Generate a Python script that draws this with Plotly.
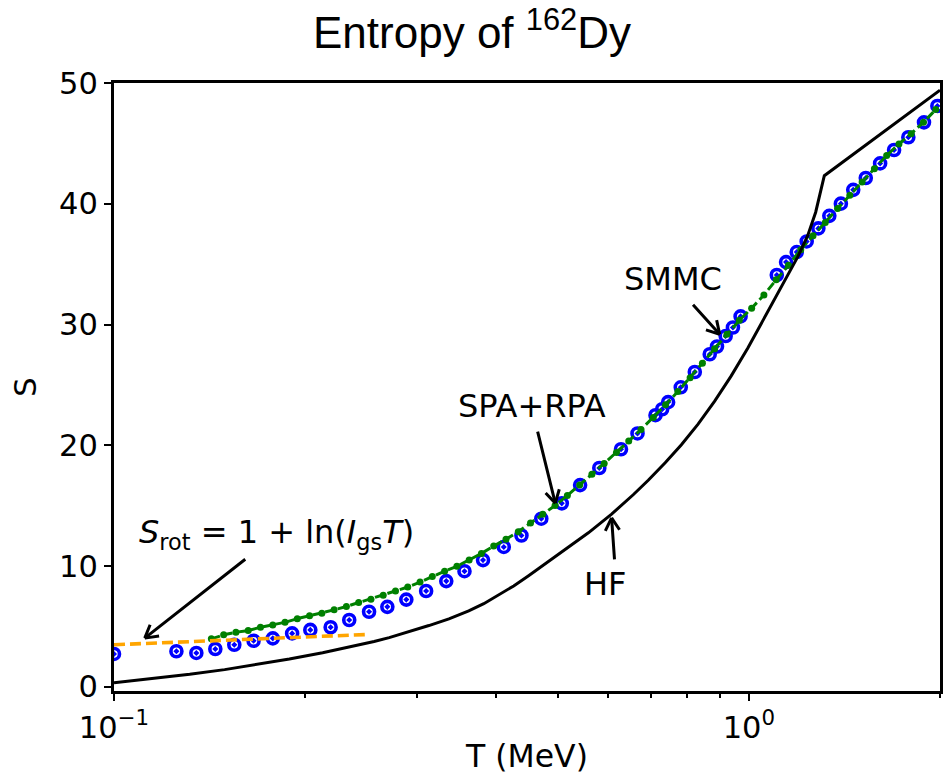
import numpy as np
import plotly.graph_objects as go

# ---------------- data ----------------
# SMMC (blue open circles)
smmc_T = [0.1, 0.1254, 0.1348, 0.1444, 0.1547, 0.1659, 0.1779, 0.1908, 0.2038, 0.2194,
          0.2347, 0.2522, 0.2695, 0.2887, 0.3102, 0.3337, 0.3565, 0.3813, 0.4111, 0.4383,
          0.4710, 0.5074, 0.5422, 0.5813, 0.6289, 0.6677, 0.7127, 0.7301, 0.7461, 0.7811,
          0.8219, 0.8676, 0.8908, 0.9193, 0.9438, 0.9704, 1.1065, 1.1444, 1.1895, 1.2332,
          1.2865, 1.3387, 1.3960, 1.4600, 1.5280, 1.6096, 1.6932, 1.7830, 1.8872, 1.9810]
smmc_S = [2.72, 2.94, 2.80, 3.13, 3.48, 3.81, 4.01, 4.42, 4.71, 4.93,
          5.53, 6.21, 6.62, 7.22, 7.93, 8.75, 9.57, 10.49, 11.58, 12.53,
          13.92, 15.19, 16.70, 18.12, 19.67, 20.98, 22.49, 22.98, 23.57, 24.80,
          26.07, 27.54, 28.18, 29.05, 29.75, 30.67, 34.10, 35.17, 36.00, 36.88,
          37.96, 39.00, 40.01, 41.15, 42.13, 43.34, 44.45, 45.51, 46.74, 48.10]

# SPA+RPA (green dashed with dots)
spa_T = [0.14235, 0.14884, 0.15561, 0.16270, 0.17010, 0.17785, 0.18594, 0.19441, 0.20326, 0.21251,
         0.22219, 0.23230, 0.24288, 0.25394, 0.26550, 0.27758, 0.29022, 0.30343, 0.31725, 0.33169,
         0.34679, 0.36258, 0.37909, 0.39635, 0.41439, 0.43326, 0.45298, 0.47360, 0.49516, 0.51771,
         0.54128, 0.56592, 0.59168, 0.61862, 0.64679, 0.67623, 0.70702, 0.73921, 0.77286, 0.80805,
         0.84484, 0.88330, 0.92351, 0.96605, 1.01004, 1.05603, 1.10410, 1.15437, 1.20693, 1.26188,
         1.31932, 1.37939, 1.44219, 1.50785, 1.57649, 1.64826, 1.72330, 1.80176, 1.88379, 1.96955]
spa_S = [3.97, 4.30, 4.52, 4.66, 4.93, 5.12, 5.34, 5.64, 5.89, 6.08,
         6.37, 6.65, 6.97, 7.25, 7.57, 7.93, 8.26, 8.67, 9.13, 9.57,
         9.98, 10.49, 11.04, 11.66, 12.21, 12.84, 13.57, 14.28, 15.01, 15.85,
         16.70, 17.60, 18.50, 19.40, 20.35, 21.30, 22.30, 23.35, 24.45, 25.60,
         26.80, 28.00, 29.20, 30.35, 31.35, 32.45, 33.70, 34.90, 36.20, 37.35,
         38.45, 39.60, 40.70, 41.80, 42.90, 44.00, 44.95, 45.80, 46.75, 47.80]

# HF (black solid)
hf_T = [0.1, 0.11389, 0.1316, 0.14937, 0.1675, 0.18890, 0.2131, 0.23984, 0.25683, 0.2713,
        0.29152, 0.31332, 0.33694, 0.36204, 0.38233, 0.40365, 0.42613, 0.4498, 0.5015, 0.55869,
        0.6078, 0.65735, 0.6942, 0.73814, 0.7829, 0.83167, 0.8833, 0.9380, 0.9963, 1.05572,
        1.1376, 1.1937, 1.2377, 1.2741, 1.3147, 2.0]
hf_S = [0.33, 0.65, 1.03, 1.42, 1.85, 2.30, 2.82, 3.38, 3.75, 4.07,
        4.55, 5.07, 5.62, 6.28, 6.88, 7.58, 8.35, 9.20, 10.95, 12.75,
        14.30, 15.90, 17.10, 18.55, 20.05, 21.75, 23.65, 25.75, 28.05, 30.45,
        33.50, 35.60, 37.35, 39.30, 42.32, 49.40]

# S_rot = 1 + ln(I_gs T) (orange dashed)
rot_T = [0.1, 0.2504]
rot_S = [3.48, 4.33]

# ticks
x_major = [0.1, 1.0]
x_major_text = ["10<sup>\u22121</sup>", "10<sup>0</sup>"]
x_minor = [0.2, 0.3, 0.4, 0.5, 0.6, 0.7, 0.8, 0.9, 2.0]
y_ticks = [0, 10, 20, 30, 40, 50]

# ---------------- figure ----------------
FONT = "DejaVu Sans"
FS = 30.5
AFS = 32

fig = go.Figure()
fig.add_trace(go.Scatter(x=smmc_T, y=smmc_S, mode="markers",
                         marker=dict(symbol="circle-open-dot", size=11, color="blue",
                                     line=dict(width=3.6, color="blue")),
                         showlegend=False))
fig.add_trace(go.Scatter(x=spa_T, y=spa_S, mode="lines+markers",
                         line=dict(color="green", width=3, dash="9px,4px"),
                         marker=dict(size=7, color="green"),
                         showlegend=False))
fig.add_trace(go.Scatter(x=rot_T, y=rot_S, mode="lines",
                         line=dict(color="orange", width=3.6, dash="11px,5px"),
                         showlegend=False))
fig.add_trace(go.Scatter(x=hf_T, y=hf_S, mode="lines",
                         line=dict(color="black", width=3),
                         showlegend=False))

afont = dict(family=FONT, size=AFS, color="black")
L = np.log10

# text labels
texts = [
    ("<i>S</i><sub>rot</sub> = 1 + ln(<i>I</i><sub>gs</sub><i>T</i>)", 0.1803, 12.62),
    ("SPA+RPA", 0.4547, 23.25),
    ("SMMC", 0.7600, 33.74),
    ("HF", 0.5940, 8.53),
]
for t, xt, yt in texts:
    fig.add_annotation(x=L(xt), y=yt, xref="x", yref="y", text=t, showarrow=False,
                       font=afont, xanchor="center", yanchor="middle")

# arrows ("->" style): head (T, S), tail offset in px
arrows = [
    (0.1118, 4.03, 102, -80),
    (0.4955, 15.21, -18, -73),
    (0.8995, 29.19, -28, -31),
    (0.6078, 13.98, 3, 43),
]
HEAD_LEN = 16.0
HEAD_ANG = np.deg2rad(30)


def arrow_line(xh, yh, ax, ay):
    fig.add_annotation(x=L(xh), y=yh, xref="x", yref="y", text="", showarrow=True,
                       ax=ax, ay=ay, arrowhead=0, arrowwidth=3,
                       arrowcolor="black", standoff=0, startstandoff=0)


for xh, yh, ax, ay in arrows:
    arrow_line(xh, yh, ax, ay)
    d = np.array([ax, ay], dtype=float)
    d /= np.hypot(*d)
    for sgn in (1, -1):
        c, s = np.cos(sgn * HEAD_ANG), np.sin(sgn * HEAD_ANG)
        r = np.array([c * d[0] - s * d[1], s * d[0] + c * d[1]]) * HEAD_LEN
        arrow_line(xh, yh, float(r[0]), float(r[1]))

fig.update_layout(
    width=944, height=774,
    margin=dict(l=114, r=1, t=83, b=75),
    paper_bgcolor="white", plot_bgcolor="white",
    font=dict(family=FONT, size=FS, color="black"),
    title=dict(text="Entropy of <sup>162</sup>Dy", x=0.5, xref="container", xanchor="center",
               y=1 - 33 / 774, yref="container", yanchor="middle",
               font=dict(family="Liberation Sans, Arial", size=44, color="black")),
    xaxis=dict(type="log", range=[-1, L(2.0)], tickvals=x_major, ticktext=x_major_text,
               ticks="outside", ticklen=7, tickwidth=2, tickcolor="black",
               showline=True, linewidth=3, linecolor="black", mirror=True,
               showgrid=False, zeroline=False,
               tickfont=dict(family=FONT, size=FS),
               minor=dict(tickvals=x_minor, ticks="outside", ticklen=4, tickwidth=1.5,
                          tickcolor="black", showgrid=False),
               title=dict(text="T (MeV)", font=dict(family=FONT, size=31.5), standoff=6)),
    yaxis=dict(range=[-0.35, 50], tickvals=y_ticks, ticks="outside", ticklen=7, tickwidth=2,
               tickcolor="black", showline=True, linewidth=3, linecolor="black", mirror=True,
               showgrid=False, zeroline=False,
               tickfont=dict(family=FONT, size=FS),
               title=dict(text="S", font=dict(family=FONT, size=FS), standoff=14)),
)

fig.write_html("out.html")
